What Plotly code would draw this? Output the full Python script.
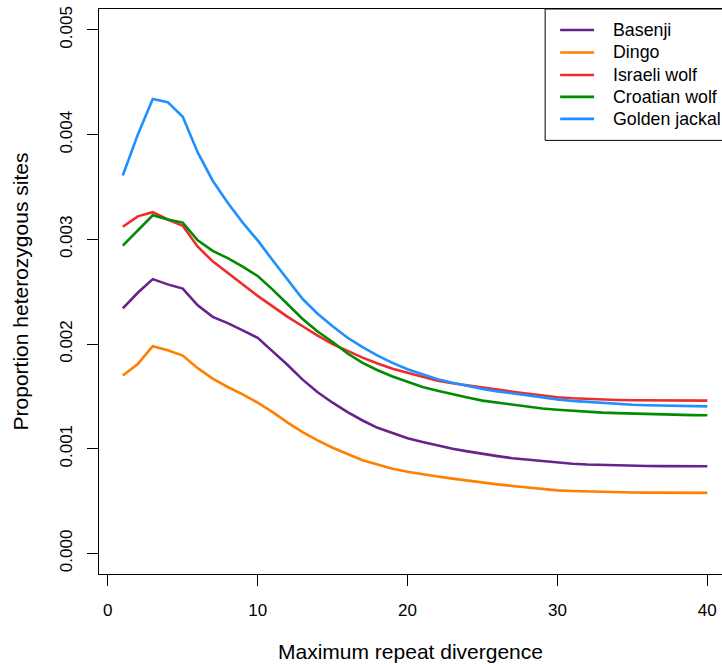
import plotly.graph_objects as go

x = list(range(1, 41))

basenji = [2.34, 2.49, 2.62, 2.57, 2.53, 2.37, 2.26, 2.20, 2.13, 2.06,
           1.93, 1.80, 1.66, 1.54, 1.44, 1.35, 1.27, 1.20, 1.15, 1.10,
           1.065, 1.03, 1.00, 0.975, 0.95, 0.93, 0.91, 0.895, 0.88, 0.865,
           0.857, 0.85, 0.845, 0.84, 0.837, 0.835, 0.834, 0.833, 0.833, 0.833]
dingo = [1.70, 1.81, 1.98, 1.94, 1.89, 1.77, 1.67, 1.59, 1.52, 1.44,
         1.35, 1.25, 1.16, 1.08, 1.01, 0.95, 0.89, 0.85, 0.81, 0.78,
         0.755, 0.735, 0.715, 0.695, 0.675, 0.66, 0.645, 0.63, 0.615, 0.603,
         0.597, 0.592, 0.588, 0.585, 0.583, 0.581, 0.580, 0.579, 0.579, 0.579]
israeli_wolf = [3.12, 3.22, 3.26, 3.19, 3.13, 2.93, 2.79, 2.68, 2.57, 2.46,
                2.36, 2.26, 2.17, 2.08, 2.00, 1.935, 1.87, 1.815, 1.765, 1.725,
                1.685, 1.65, 1.625, 1.603, 1.585, 1.565, 1.545, 1.525, 1.507, 1.492,
                1.482, 1.475, 1.47, 1.466, 1.463, 1.461, 1.46, 1.46, 1.46, 1.46]
croatian_wolf = [2.94, 3.09, 3.23, 3.19, 3.16, 2.99, 2.89, 2.82, 2.74, 2.65,
                 2.52, 2.38, 2.24, 2.12, 2.02, 1.91, 1.82, 1.75, 1.69, 1.64,
                 1.59, 1.555, 1.52, 1.49, 1.46, 1.44, 1.42, 1.40, 1.385, 1.373,
                 1.362, 1.352, 1.345, 1.34, 1.335, 1.33, 1.326, 1.323, 1.321, 1.32]
golden_jackal = [3.61, 4.00, 4.34, 4.31, 4.17, 3.83, 3.56, 3.35, 3.16, 2.99,
                 2.80, 2.61, 2.43, 2.29, 2.17, 2.06, 1.97, 1.89, 1.82, 1.76,
                 1.71, 1.665, 1.63, 1.598, 1.57, 1.548, 1.528, 1.51, 1.492, 1.472,
                 1.457, 1.446, 1.437, 1.428, 1.42, 1.415, 1.411, 1.408, 1.406, 1.405]

names = ["Basenji", "Dingo", "Israeli wolf", "Croatian wolf", "Golden jackal"]
series = [basenji, dingo, israeli_wolf, croatian_wolf, golden_jackal]
colors = ["#68228B", "#FF7F00", "#EE2C2C", "#008B00", "#1E90FF"]

x_ticks = [0, 10, 20, 30, 40]
y_ticks = [0.000, 0.001, 0.002, 0.003, 0.004, 0.005]

W, H = 722, 664
L, R, T, B = 98.5, 0, 9, 89.5
FONT = "Liberation Sans, Arial, Helvetica, sans-serif"

fig = go.Figure()
for name, vals, col in zip(names, series, colors):
    fig.add_trace(go.Scatter(
        x=x, y=[v / 1000 for v in vals], mode="lines", name=name,
        line=dict(color=col, width=2.6), showlegend=False))

# manual R-style legend (positions in screen pixels)
pw, ph = W - L - R, H - T - B
def px(xp):
    return (xp - L) / pw
def py(yp):
    return (H - B - yp) / ph

fig.add_shape(type="rect", xref="paper", yref="paper",
              x0=px(545), x1=px(760), y0=py(140.5), y1=py(9),
              line=dict(color="black", width=1), fillcolor="white", layer="above")
entry_y = [30, 52.5, 75, 97, 119]
for name, col, yy in zip(names, colors, entry_y):
    fig.add_shape(type="line", xref="paper", yref="paper",
                  x0=px(560), x1=px(594), y0=py(yy), y1=py(yy),
                  line=dict(color=col, width=2.6), layer="above")
    fig.add_annotation(xref="paper", yref="paper", x=px(611), y=py(yy),
                       text=name, showarrow=False, xanchor="left", yanchor="middle",
                       font=dict(family=FONT, size=17.8, color="black"))

fig.update_layout(
    width=W, height=H,
    margin=dict(l=L, r=R, t=T, b=B, pad=0),
    paper_bgcolor="white", plot_bgcolor="white",
    font=dict(family=FONT, color="black"),
    xaxis=dict(range=[-0.587, 40.98], tickvals=x_ticks, ticktext=[str(v) for v in x_ticks],
               showgrid=False, zeroline=False, showline=True, mirror=True,
               linecolor="black", linewidth=1, ticks="outside", ticklen=11,
               tickcolor="black", tickwidth=1, tickfont=dict(size=17),
               ticklabelstandoff=10, ticklabeloverflow="allow",
               title=dict(text="Maximum repeat divergence", font=dict(size=21), standoff=24)),
    yaxis=dict(range=[-0.000196, 0.0052], tickvals=y_ticks,
               ticktext=["%.3f" % v for v in y_ticks],
               showgrid=False, zeroline=False, showline=True, mirror=False,
               linecolor="black", linewidth=1, ticks="outside", ticklen=11,
               tickcolor="black", tickwidth=1, tickfont=dict(size=17),
               tickangle=-90, ticklabelstandoff=8, ticklabeloverflow="allow",
               title=dict(text="Proportion heterozygous sites", font=dict(size=21), standoff=22)),
)

fig.write_html(
    "out.html",
    config={"displayModeBar": False},
    post_script="document.body.style.margin='0';document.body.style.overflow='hidden';",
)
